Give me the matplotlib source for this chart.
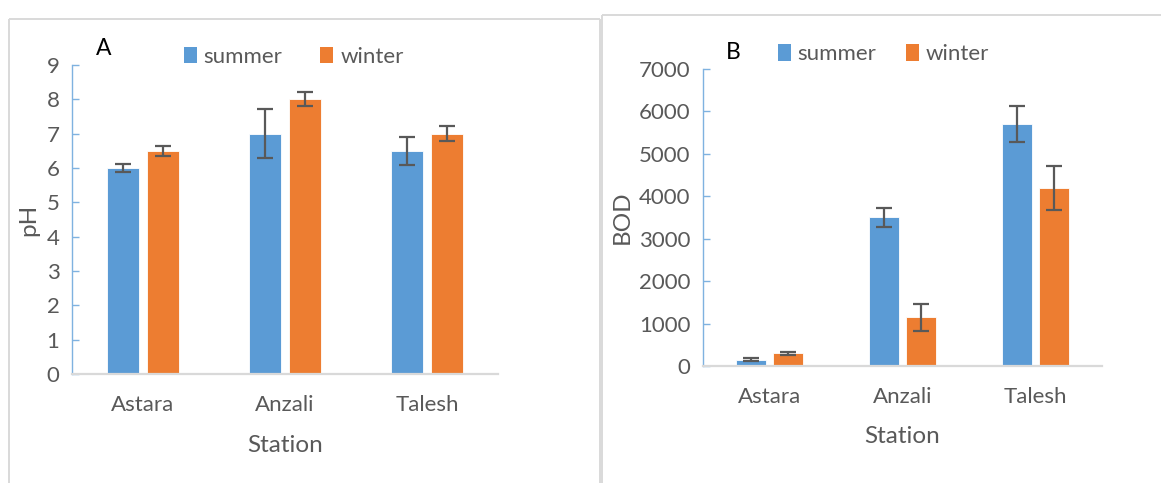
import matplotlib
matplotlib.use("Agg")
import matplotlib.pyplot as plt
import numpy as np
from matplotlib.lines import Line2D
from matplotlib.patches import Patch

plt.rcParams["font.family"] = ["Lato", "DejaVu Sans"]

stations = ["Astara", "Anzali", "Talesh"]

ph_summer = [6.0, 7.0, 6.5]
ph_summer_err = [0.12, 0.71, 0.41]
ph_winter = [6.5, 8.0, 7.0]
ph_winter_err = [0.15, 0.20, 0.22]

bod_summer = [150, 3500, 5700]
bod_summer_err = [30, 230, 430]
bod_winter = [300, 1150, 4200]
bod_winter_err = [40, 315, 515]

BLUE = "#5B9BD5"
ORANGE = "#ED7D31"
GREY_TXT = "#595959"
FRAME = "#D9D9D9"

W, H = 1161, 483


def px_axes(fig, left, top, right, bottom):
    return fig.add_axes([left / W, (H - bottom) / H, (right - left) / W, (bottom - top) / H])


def bar_panel(ax, summer, s_err, winter, w_err, ymax, ystep, ylabel, letter,
              ylabel_x, station_y, legend_xy, col_space):
    x = np.arange(len(stations))
    width, off = 0.225, 0.14
    ekw = dict(ecolor="#595959", elinewidth=1.6, capsize=5.5, capthick=1.6)
    ax.bar(x - off, summer, width, yerr=s_err, color=BLUE, edgecolor="white",
           linewidth=0.6, error_kw=ekw, zorder=2)
    ax.bar(x + off, winter, width, yerr=w_err, color=ORANGE, edgecolor="white",
           linewidth=0.6, error_kw=ekw, zorder=2)

    ax.set_xlim(-0.5, len(stations) - 0.5)
    ax.set_ylim(0, ymax)
    ax.set_yticks(np.arange(0, ymax + ystep / 2, ystep))
    ax.set_xticks(x)
    ax.set_xticklabels(stations)

    for s in ("top", "right"):
        ax.spines[s].set_visible(False)
    ax.spines["left"].set_color("#7FB2E0")
    ax.spines["left"].set_linewidth(1.0)
    ax.spines["bottom"].set_color(FRAME)
    ax.spines["bottom"].set_linewidth(1.6)

    ax.tick_params(axis="y", direction="in", length=5, width=1.0, color="#7FB2E0",
                   labelsize=16, labelcolor=GREY_TXT, pad=9)
    ax.tick_params(axis="x", length=0, labelsize=16, labelcolor=GREY_TXT, pad=15)

    ax.text(0.5, station_y, "Station", transform=ax.transAxes,
            ha="center", va="center", fontsize=17.5, color=GREY_TXT)
    ax.text(ylabel_x, 0.5, ylabel, transform=ax.transAxes, rotation=90,
            ha="center", va="center", fontsize=17.5, color=GREY_TXT)
    ax.text(0.075, 1.055, letter, transform=ax.transAxes, ha="center", va="center",
            fontsize=16.5, color="black")

    handles = [Patch(facecolor=BLUE, label="summer"), Patch(facecolor=ORANGE, label="winter")]
    ax.legend(handles=handles, loc="center", bbox_to_anchor=legend_xy, ncol=2,
              frameon=False, fontsize=16, handlelength=0.6, handleheight=0.75,
              handletextpad=0.3, columnspacing=col_space, labelcolor=GREY_TXT,
              borderaxespad=0, borderpad=0)


fig = plt.figure(figsize=(W / 100, H / 100), dpi=100)
fig.patch.set_facecolor("white")

ax_a = px_axes(fig, 72, 65, 498, 374)
bar_panel(ax_a, ph_summer, ph_summer_err, ph_winter, ph_winter_err,
          9, 1, "pH", "A", -0.101, -0.23, (0.52, 1.026), 1.7)

ax_b = px_axes(fig, 703, 69, 1102, 366)
bar_panel(ax_b, bod_summer, bod_summer_err, bod_winter, bod_winter_err,
          7000, 1000, "BOD", "B", -0.203, -0.237, (0.452, 1.05), 1.3)

# chart-area frames around each panel
def frame_line(xs, ys):
    fig.add_artist(Line2D([v / W for v in xs], [(H - v) / H for v in ys],
                          color=FRAME, linewidth=1.4, solid_capstyle="butt"))

frame_line([8.5, 8.5], [483, 18.5])
frame_line([8.5, 599.5], [18.5, 18.5])
frame_line([599.5, 599.5], [18.5, 483])
frame_line([602, 602], [15, 483])
frame_line([602, 1161], [15, 15])

fig.savefig("out.png", dpi=100)
